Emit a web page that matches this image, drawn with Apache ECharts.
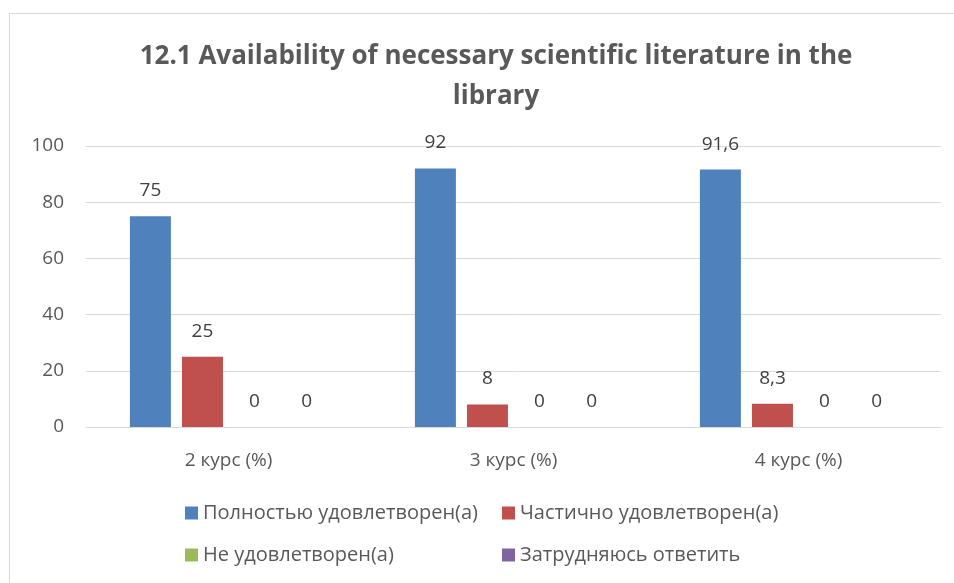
<!DOCTYPE html>
<html>
  <head>
    <meta charset="utf-8" />
    <title>ECharts</title>
    <script src="https://cdn.jsdelivr.net/npm/echarts@6/dist/echarts.min.js"></script>
    <style>
      html, body { margin: 0; padding: 0; background: #fff; }
    </style>
  </head>
  <body>
    <div id="main" style="width: 954px;height:583px;"></div>
    <script type="text/javascript">
      // data
      var categories = ['2 курс (%)', '3 курс (%)', '4 курс (%)'];
      var seriesNames = ['Полностью удовлетворен(а)', 'Частично удовлетворен(а)', 'Не удовлетворен(а)', 'Затрудняюсь ответить'];
      var fully = [75, 92, 91.6];
      var partly = [25, 8, 8.3];
      var notSat = [0, 0, 0];
      var hardToSay = [0, 0, 0];
      var colors = ['#4F81BD', '#C0504D', '#9BBB59', '#8064A2'];

      var font = '"Open Sans", "Noto Sans", sans-serif';
      var myChart = echarts.init(document.getElementById('main'));

      function bar(name, data, color) {
        return {
          type: 'bar',
          name: name,
          data: data,
          barWidth: 41,
          barGap: '27%',
          itemStyle: { color: color },
          label: {
            show: true,
            position: 'top',
            distance: 16,
            color: '#404040',
            fontSize: 19,
            fontFamily: font,
            formatter: function (p) { return String(p.value).replace('.', ','); }
          }
        };
      }

      function legendAt(idx, left, top) {
        return {
          data: [seriesNames[idx]],
          left: left,
          top: top,
          itemWidth: 13,
          itemHeight: 13,
          itemGap: 5,
          icon: 'rect',
          textStyle: { color: '#595959', fontSize: 20, fontFamily: font },
          selectedMode: false
        };
      }

      var option = {
        animation: false,
        color: colors,
        title: {
          text: '12.1 Availability of necessary scientific literature in the\nlibrary',
          left: 491,
          textAlign: 'center',
          top: 32,
          textStyle: {
            fontSize: 26,
            fontWeight: 'bold',
            color: '#595959',
            lineHeight: 40,
            fontFamily: font
          }
        },
        graphic: [{
          type: 'rect',
          shape: { x: 9.5, y: 13.5, width: 980, height: 600 },
          style: { fill: 'none', stroke: '#d9d9d9', lineWidth: 1 },
          silent: true
        }],
        legend: [
          legendAt(0, 180, 498),
          legendAt(1, 497, 498),
          legendAt(2, 180, 540),
          legendAt(3, 497, 540)
        ],
        grid: { left: 86, right: 13, top: 146, bottom: 156 },
        xAxis: {
          type: 'category',
          data: categories,
          axisTick: { show: false },
          axisLine: { lineStyle: { color: '#d9d9d9' } },
          axisLabel: { color: '#595959', fontSize: 19, fontFamily: font, margin: 24 }
        },
        yAxis: {
          type: 'value',
          min: 0,
          max: 100,
          interval: 20,
          axisLabel: { color: '#595959', fontSize: 19, fontFamily: font, margin: 22 },
          splitLine: { lineStyle: { color: '#d9d9d9' } }
        },
        series: [
          bar(seriesNames[0], fully, colors[0]),
          bar(seriesNames[1], partly, colors[1]),
          bar(seriesNames[2], notSat, colors[2]),
          bar(seriesNames[3], hardToSay, colors[3])
        ]
      };
      myChart.setOption(option);
    </script>
  </body>
</html>
